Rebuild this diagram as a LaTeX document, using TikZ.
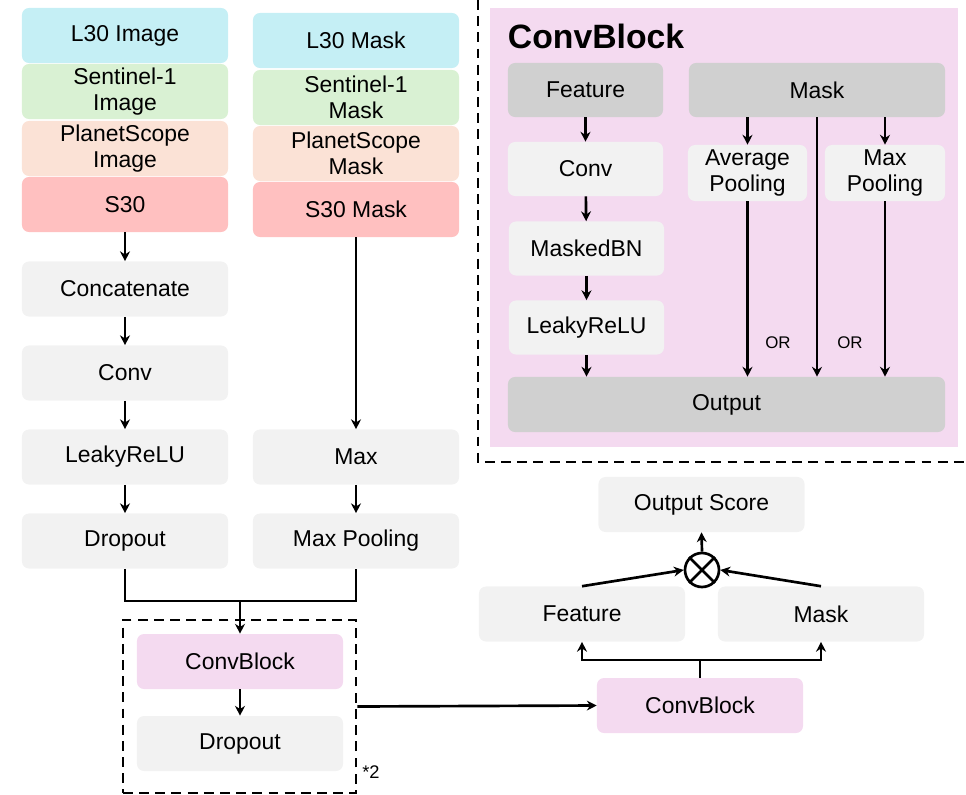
\documentclass[tikz,border=0pt]{standalone}
\usepackage{fontspec}
\setmainfont{Liberation Sans}
\usepackage{tikz}
\usetikzlibrary{arrows,arrows.meta}
\usetikzlibrary{shapes,positioning}

\definecolor{lthirty}{HTML}{C5EFF5}
\definecolor{sentinel}{HTML}{D9F1D3}
\definecolor{planet}{HTML}{FBE2D6}
\definecolor{sthirty}{HTML}{FFC0C0}
\definecolor{lightbox}{HTML}{F2F2F2}
\definecolor{darkbox}{HTML}{D0D0D0}
\definecolor{blockpink}{HTML}{F4DAF0}

\tikzset{>={Stealth[length=7pt,width=7pt]},
  box/.style={rounded corners=5pt, align=center, inner sep=0pt,
    font=\fontsize{16.3}{18.5}\selectfont,
    minimum width=5.15cm, minimum height=1.375cm},
  inbox/.style={box, minimum width=3.875cm, minimum height=1.35cm},
  flow/.style={->, line width=1.9pt},
  dashframe/.style={line width=1.9pt, dash pattern=on 7pt off 4.5pt}}

\begin{document}
\begin{tikzpicture}[x=0.025cm, y=-0.025cm, line cap=butt]

  \useasboundingbox (0,0) rectangle (966,795);

  % inputs
  \node [box, fill=lthirty]  (img1) at (125,35.5)  {L30 Image};
  \node [box, fill=sentinel] (img2) at (125,91.5)  {Sentinel-1\\Image};
  \node [box, fill=planet]   (img3) at (125,148.5) {PlanetScope\\Image};
  \node [box, fill=sthirty]  (img4) at (125,204.5) {S30};

  \node [box, fill=lthirty]  (msk1) at (356,40.5)  {L30 Mask};
  \node [box, fill=sentinel] (msk2) at (356,97.5)  {Sentinel-1\\Mask};
  \node [box, fill=planet]   (msk3) at (356,153.5) {PlanetScope\\Mask};
  \node [box, fill=sthirty]  (msk4) at (356,209.5) {S30 Mask};

  % feature path
  \node [box, fill=lightbox] (concat) at (125,289) {Concatenate};
  \node [box, fill=lightbox] (conv)   at (125,373) {Conv};
  \node [box, fill=lightbox] (lrelu)  at (125,457) {LeakyReLU};
  \node [box, fill=lightbox] (drop)   at (125,541) {Dropout};

  % mask path
  \node [box, fill=lightbox] (max)     at (356,457) {Max};
  \node [box, fill=lightbox] (maxpool) at (356,541) {Max Pooling};

  \draw [flow] (img4) -- (concat);
  \draw [flow] (concat) -- (conv);
  \draw [flow] (conv) -- (lrelu);
  \draw [flow] (lrelu) -- (drop);
  \draw [flow] (msk4) -- (max);
  \draw [flow] (max) -- (maxpool);

  % repeated block
  \node [dashframe, draw, minimum width=5.825cm, minimum height=4.325cm,
    inner sep=0pt] (loop) at (239.5,706.5) {};
  \node [box, fill=blockpink] (cbone)   at (240,661.5) {ConvBlock};
  \node [box, fill=lightbox]  (dropone) at (240,743.5) {Dropout};
  \node [font=\fontsize{13}{15}\selectfont] (rep) at (371,772) {*2};

  \coordinate (join) at (240,601);
  \draw [line width=1.9pt] (drop.south) |- (join) -| (maxpool.south);
  \draw [flow] (join) -- (cbone);
  \draw [flow] (cbone) -- (dropone);

  % head
  \node [box, fill=blockpink] (cbtwo) at (700,705.5) {ConvBlock};
  \node [box, fill=lightbox]  (feat)  at (582,614)   {Feature};
  \node [box, fill=lightbox]  (mask)  at (821,614)   {Mask};
  \node [draw, circle, line width=1.9pt, minimum size=0.85cm, inner sep=0pt]
    (mul) at (702,570) {};
  \draw [line width=1.9pt] (mul.north west) -- (mul.south east);
  \draw [line width=1.9pt] (mul.north east) -- (mul.south west);
  \node [box, fill=lightbox] (score) at (701.5,504.5) {Output Score};

  \draw [flow] (loop.east) -- (cbtwo.west);
  \coordinate (split) at (700,660);
  \draw [line width=1.9pt] (cbtwo.north) -- (split);
  \draw [flow] (split) -| (feat.south);
  \draw [flow] (split) -| (mask.south);
  \draw [flow] (feat.north) -- (mul.west);
  \draw [flow] (mask.north) -- (mul.east);
  \draw [flow] (mul.north) -- (score.south);

  % ConvBlock detail
  \fill [blockpink] (490,8) rectangle (958,447);
  \draw [dashframe] (478,0) -- (478,462) -- (966,462);
  \node [anchor=west, font=\fontsize{24}{28}\selectfont\bfseries] (title)
    at (503,36) {ConvBlock};

  \node [inbox, fill=darkbox]  (ifeat) at (585.5,90)   {Feature};
  \node [inbox, fill=darkbox, minimum width=6.4cm] (imask) at (817,90) {Mask};
  \node [inbox, fill=lightbox] (iconv) at (585.5,169)  {Conv};
  \node [inbox, fill=lightbox] (ibn)   at (586.5,248.5) {MaskedBN};
  \node [inbox, fill=lightbox] (irelu) at (586.5,327.5) {LeakyReLU};
  \node [inbox, fill=darkbox, minimum width=10.925cm, minimum height=1.375cm]
    (iout) at (726.5,404.5) {Output};
  \node [inbox, fill=lightbox, minimum width=2.975cm, minimum height=1.4cm]
    (iavg) at (747.5,173) {Average\\Pooling};
  \node [inbox, fill=lightbox, minimum width=3cm, minimum height=1.4cm]
    (imax) at (885,173) {Max\\Pooling};

  \draw [flow] (ifeat) -- (iconv);
  \draw [flow] (iconv) -- (ibn);
  \draw [flow] (ibn) -- (irelu);
  \draw [flow] (irelu) -- (irelu.south |- iout.north);
  \draw [flow] (imask.south -| iavg.north) -- (iavg.north);
  \draw [flow] (imask.south) -- (imask.south |- iout.north);
  \draw [flow] (imask.south -| imax.north) -- (imax.north);
  \draw [flow] (iavg.south) -- (iavg.south |- iout.north);
  \draw [flow] (imax.south) -- (imax.south |- iout.north);

  \node [font=\fontsize{12}{14}\selectfont] (orone) at (778,343) {OR};
  \node [font=\fontsize{12}{14}\selectfont] (ortwo) at (850,343) {OR};

\end{tikzpicture}
\end{document}
